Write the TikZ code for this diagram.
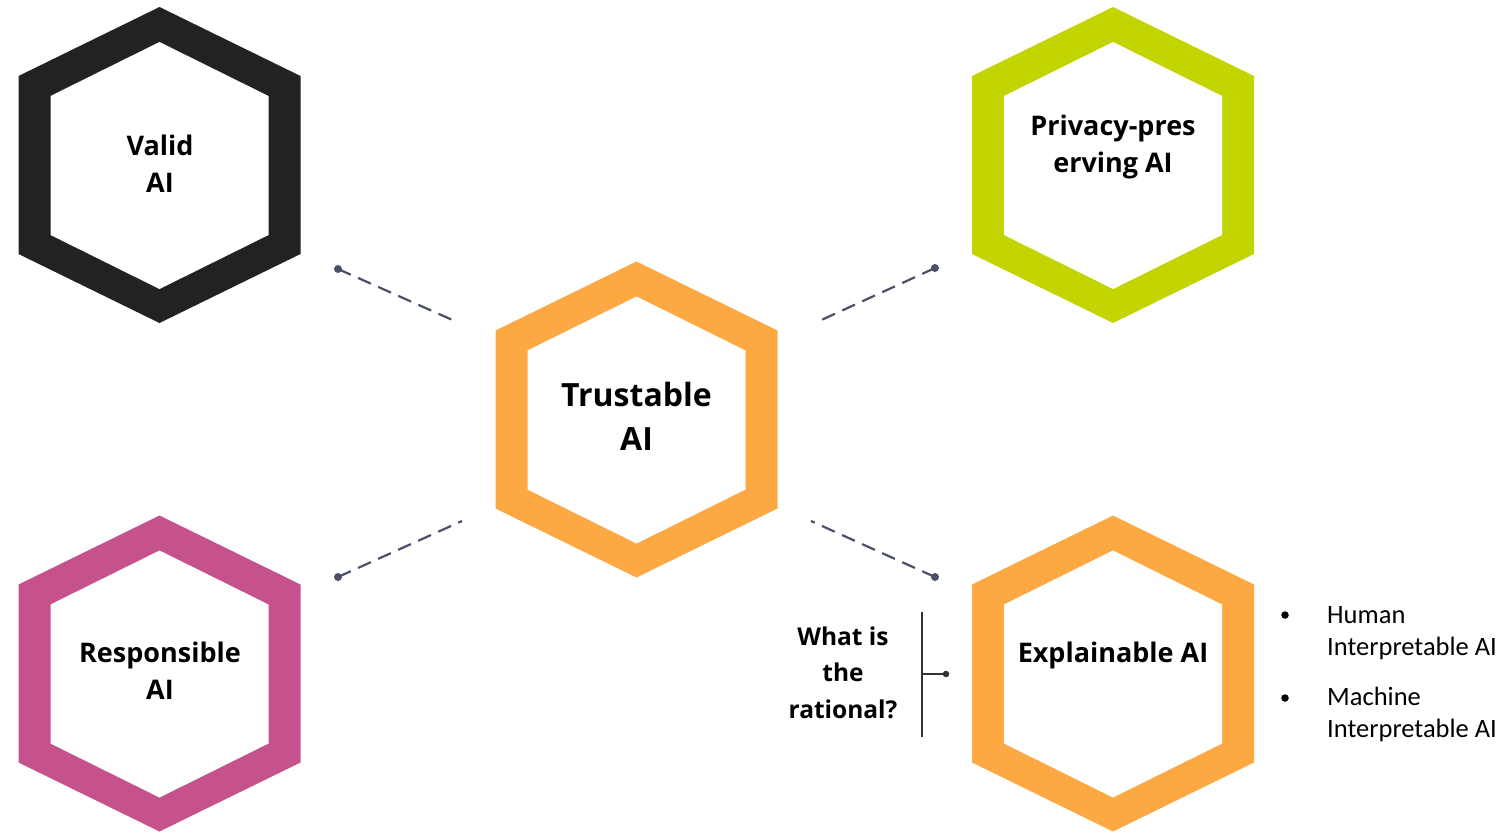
\documentclass[tikz,border=0pt]{standalone}
\usepackage{fontspec}
\setmainfont{Open Sans}
\newfontfamily\listfont{Carlito}
\definecolor{hexblack}{HTML}{222222}
\definecolor{hexgreen}{HTML}{C2D500}
\definecolor{hexorange}{HTML}{FDA943}
\definecolor{hexpink}{HTML}{C5528D}
\definecolor{dashcol}{HTML}{4A5068}
\definecolor{bracketcol}{HTML}{333333}
\newcommand\hexring[2]{%
  \fill[#2, shift={(#1)}] (0,-158)--(141,-89)--(141,89)--(0,158)--(-141,89)--(-141,-89)--cycle;
  \fill[white, shift={(#1)}] (0,-123)--(109,-69)--(109,70)--(0,124)--(-109,70)--(-109,-69)--cycle;}
\tikzset{
  hexlabel/.style={anchor=base, align=center, inner sep=0pt, font=\bfseries\fontsize{27}{37}\selectfont},
  biglabel/.style={anchor=base, align=center, inner sep=0pt, font=\bfseries\fontsize{32}{44}\selectfont},
  qlabel/.style={anchor=base, align=center, inner sep=0pt, font=\bfseries\fontsize{24.5}{36.5}\selectfont},
  listlabel/.style={anchor=base west, align=left, inner sep=0pt, font=\listfont\fontsize{26.5}{32}\selectfont},
  link/.style={draw=dashcol, line width=2.2pt, dash pattern=on 14pt off 8pt},
  linkdot/.style={circle, fill=dashcol, inner sep=0pt, minimum size=8pt},
  bracket/.style={draw=bracketcol, line width=1.6pt},
  smalldot/.style={circle, fill=bracketcol, inner sep=0pt, minimum size=6.5pt},
  bulletdot/.style={circle, fill=black, inner sep=0pt, minimum size=7.5pt}
}
\begin{document}
\begin{tikzpicture}[x=1pt, y=-1pt]
\useasboundingbox (0,0) rectangle (1504,836);
\coordinate (cValid) at (159.5,165);
\coordinate (cPriv) at (1113,165);
\coordinate (cTrust) at (636.5,419.5);
\coordinate (cResp) at (159.5,673.5);
\coordinate (cExpl) at (1113,673.5);
\hexring{cValid}{hexblack}
\hexring{cPriv}{hexgreen}
\hexring{cTrust}{hexorange}
\hexring{cResp}{hexpink}
\hexring{cExpl}{hexorange}
% anchor=base is the baseline of the last line
\node[hexlabel] (valid) at (160,192) {Valid\\AI};
\node[hexlabel] (priv) at (1113,172) {Privacy-pres\\erving AI};
\node[biglabel] (trust) at (636.5,450) {Trustable\\AI};
\node[hexlabel] (resp) at (160,699) {Responsible\\AI};
\node[hexlabel] (expl) at (1113,662) {Explainable AI};
% dashed connectors
\node[linkdot] (d1) at (338,269) {};
\coordinate (e1) at (457,322);
\node[linkdot] (d2) at (935,268) {};
\coordinate (e2) at (817,322);
\node[linkdot] (d3) at (338,577) {};
\coordinate (e3) at (462,521);
\node[linkdot] (d4) at (935,577) {};
\coordinate (e4) at (811,521);
\draw[link] (d1.center) -- (e1);
\draw[link] (d2.center) -- (e2);
\draw[link] (d3.center) -- (e3);
\draw[link] (d4.center) -- (e4);
% question bracket
\node[qlabel] (q) at (843,718) {What is\\the\\rational?};
\coordinate (bt) at (922,612);
\coordinate (bb) at (922,737);
\coordinate (bm) at (922,674);
\node[smalldot] (bd) at (946,674) {};
\draw[bracket] (bt) -- (bb);
\draw[bracket] (bm) -- (bd.center);
% bullet list
\node[bulletdot] (b1) at (1285,615) {};
\node[bulletdot] (b2) at (1285,698) {};
\node[listlabel] (l1) at (1327,655) {Human\\Interpretable AI};
\node[listlabel] (l2) at (1327,737) {Machine\\Interpretable AI};
\end{tikzpicture}
\end{document}
